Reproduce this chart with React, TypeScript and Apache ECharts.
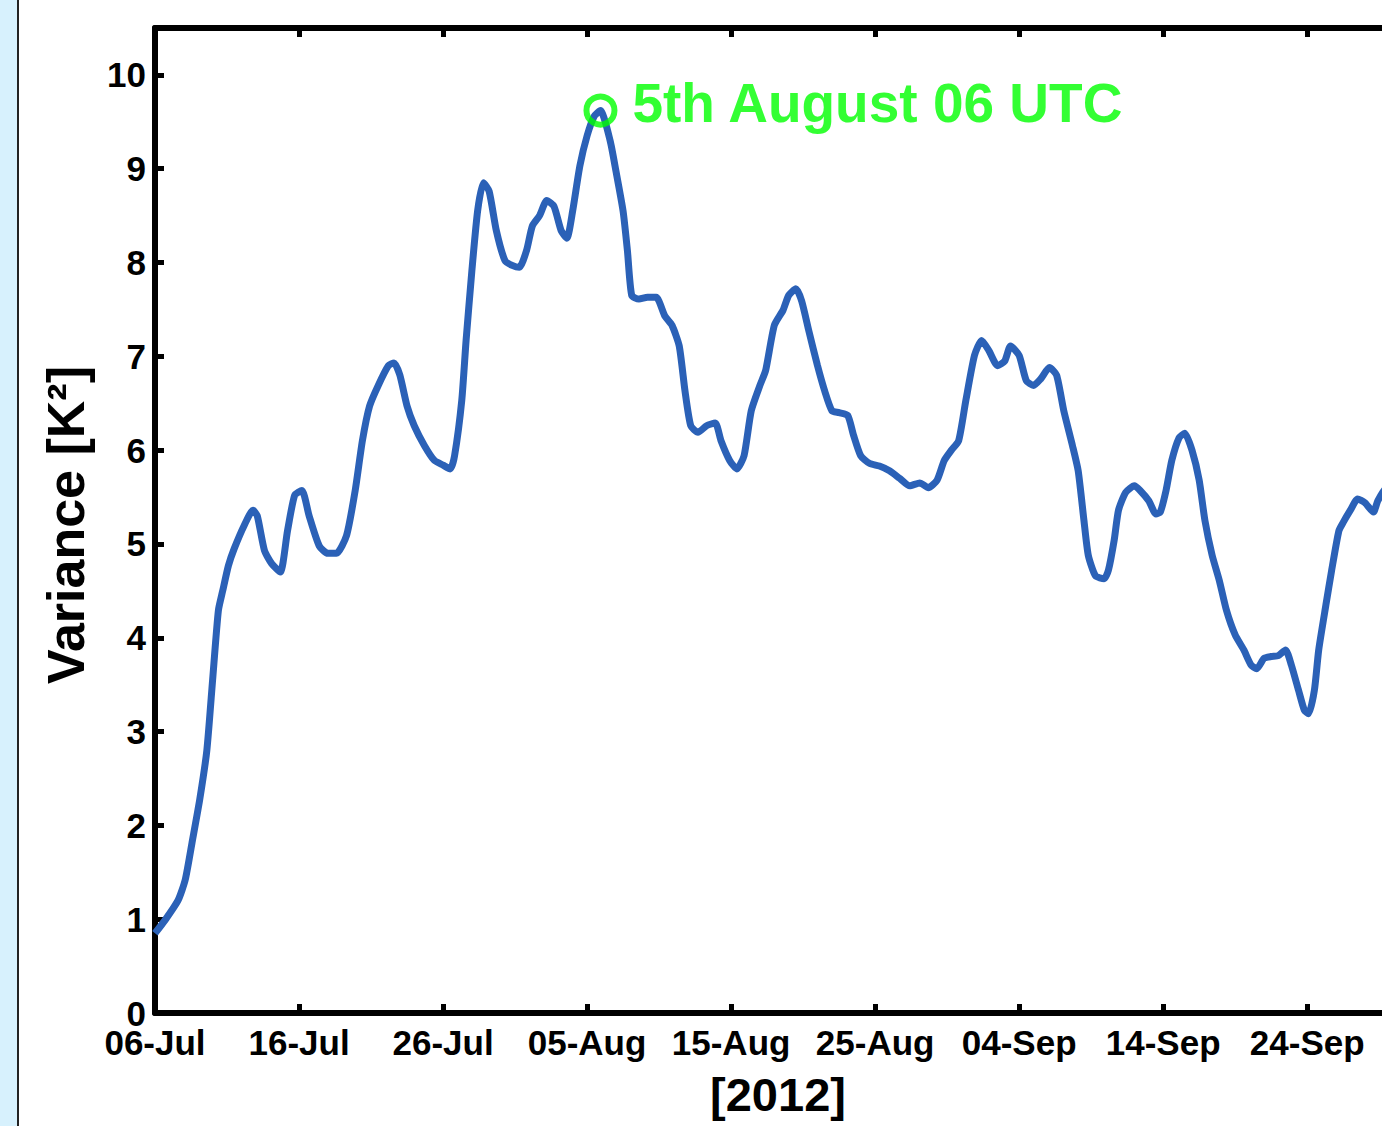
import React, { useEffect, useRef } from "react";
import * as echarts from "echarts";

// days since 06-Jul-2012
const days = [0, 0.7, 1.6, 2.1, 2.6, 3.1, 3.6, 4.0, 4.4, 4.7, 5.1, 5.5, 6.2, 6.8, 7.1, 7.6, 8.1, 8.7, 9.2, 9.7, 10.2, 10.7, 11.4, 12.0, 12.6, 13.3, 13.9, 14.4, 14.9, 15.5, 16.2, 16.6, 17.0, 17.5, 18.0, 18.7, 19.4, 20.0, 20.5, 20.8, 21.3, 21.6, 22.0, 22.4, 22.8, 23.2, 23.7, 24.3, 24.8, 25.3, 25.8, 26.2, 26.7, 27.2, 27.7, 28.2, 28.6, 29.0, 29.5, 30.0, 30.5, 30.93, 31.6, 32.0, 32.5, 32.8, 33.1, 33.6, 34.2, 34.8, 35.4, 35.9, 36.4, 36.8, 37.2, 37.7, 38.3, 38.9, 39.3, 39.9, 40.4, 40.9, 41.4, 42.0, 42.4, 43.0, 43.6, 44.0, 44.5, 44.9, 45.4, 46.0, 46.5, 47.0, 47.5, 48.1, 48.5, 49.0, 49.6, 50.3, 51.0, 51.7, 52.4, 53.1, 53.7, 54.3, 54.8, 55.3, 55.8, 56.3, 56.9, 57.4, 57.9, 58.5, 59.0, 59.4, 60.0, 60.5, 61.0, 61.5, 62.1, 62.6, 63.1, 63.7, 64.1, 64.5, 64.8, 65.3, 65.9, 66.2, 66.6, 66.9, 67.4, 68.0, 68.4, 69.0, 69.5, 69.8, 70.2, 70.6, 71.1, 71.5, 72.0, 72.5, 72.9, 73.4, 73.9, 74.4, 75.0, 75.6, 76.1, 76.5, 77.0, 77.5, 78.0, 78.5, 78.9, 79.4, 79.8, 80.1, 80.5, 80.8, 81.3, 81.7, 82.2, 82.5, 83.0, 83.5, 84.0, 84.6, 84.9, 85.5, 86.2, 87.0];

const variance = [0.85, 0.99, 1.2, 1.42, 1.84, 2.27, 2.8, 3.55, 4.29, 4.5, 4.77, 4.95, 5.2, 5.36, 5.3, 4.93, 4.79, 4.7, 5.14, 5.52, 5.57, 5.3, 4.98, 4.9, 4.9, 5.09, 5.57, 6.1, 6.47, 6.69, 6.9, 6.93, 6.8, 6.47, 6.26, 6.05, 5.89, 5.84, 5.8, 5.94, 6.53, 7.17, 7.91, 8.55, 8.85, 8.76, 8.34, 8.02, 7.97, 7.95, 8.13, 8.39, 8.5, 8.66, 8.6, 8.34, 8.26, 8.55, 9.03, 9.35, 9.56, 9.62, 9.3, 8.98, 8.55, 8.13, 7.65, 7.61, 7.63, 7.63, 7.43, 7.33, 7.11, 6.63, 6.26, 6.19, 6.26, 6.29, 6.1, 5.89, 5.8, 5.94, 6.42, 6.69, 6.85, 7.33, 7.49, 7.65, 7.72, 7.59, 7.27, 6.9, 6.63, 6.42, 6.4, 6.37, 6.16, 5.94, 5.86, 5.83, 5.78, 5.7, 5.62, 5.65, 5.6, 5.68, 5.89, 6.0, 6.1, 6.53, 7.01, 7.17, 7.06, 6.9, 6.95, 7.11, 7.01, 6.74, 6.69, 6.76, 6.88, 6.8, 6.42, 6.05, 5.78, 5.25, 4.88, 4.66, 4.63, 4.72, 5.04, 5.36, 5.55, 5.62, 5.57, 5.46, 5.32, 5.34, 5.57, 5.89, 6.13, 6.18, 6.0, 5.68, 5.25, 4.88, 4.61, 4.29, 4.03, 3.87, 3.71, 3.67, 3.78, 3.8, 3.81, 3.87, 3.71, 3.44, 3.23, 3.19, 3.44, 3.87, 4.35, 4.72, 5.14, 5.23, 5.36, 5.48, 5.44, 5.34, 5.46, 5.6, 5.62, 5.55];

const xTickLabels = ["06-Jul", "16-Jul", "26-Jul", "05-Aug", "15-Aug", "25-Aug", "04-Sep", "14-Sep", "24-Sep", "04-Oct"];
const peakDay = [30.93];
const peakValue = [9.62];
const peakLabel = "5th August 06 UTC";
const yTitle = "Variance [K²]";
const xTitle = "[2012]";

const FONT = "'Liberation Sans', Arial, sans-serif";

export default function App() {
  const ref = useRef<HTMLDivElement>(null);
  useEffect(() => {
    if (!ref.current) return;
    const chart = echarts.init(ref.current, null, { renderer: "svg" });
    const lineData = days.map((d, i) => [d, variance[i]]);
    const peakData = peakDay.map((d, i) => [d, peakValue[i]]);
    const tickStyle = { show: true, inside: true, length: 9, lineStyle: { color: "#000", width: 5 } };
    const axisLine = { show: true, onZero: false, lineStyle: { color: "#000", width: 6 } };
    chart.setOption({
      animation: false,
      backgroundColor: "#fff",
      grid: { left: 155, top: 28, bottom: 113, right: 22, containLabel: false },
      xAxis: [
        {
          type: "value",
          min: 0,
          max: 87,
          interval: 10,
          position: "bottom",
          axisLine,
          axisTick: tickStyle,
          splitLine: { show: false },
          axisLabel: {
            margin: 12,
            fontFamily: FONT,
            fontWeight: "bold",
            fontSize: 35,
            color: "#000",
            formatter: (v: number) => xTickLabels[Math.round(v / 10)] ?? "",
          },
        },
        {
          type: "value",
          min: 0,
          max: 87,
          interval: 10,
          position: "top",
          axisLine,
          axisTick: tickStyle,
          splitLine: { show: false },
          axisLabel: { show: false },
        },
      ],
      yAxis: [
        {
          type: "value",
          min: 0,
          max: 10.5,
          interval: 1,
          position: "left",
          axisLine,
          axisTick: tickStyle,
          splitLine: { show: false },
          axisLabel: {
            margin: 9,
            fontFamily: FONT,
            fontWeight: "bold",
            fontSize: 35,
            color: "#000",
            formatter: (v: number) => (v > 10 ? "" : String(v)),
          },
        },
        {
          type: "value",
          min: 0,
          max: 10.5,
          interval: 1,
          position: "right",
          axisLine,
          axisTick: tickStyle,
          splitLine: { show: false },
          axisLabel: { show: false },
        },
      ],
      graphic: [
        { type: "rect", shape: { x: 0, y: 0, width: 18, height: 1126 }, style: { fill: "#d7f1fd" } },
        { type: "rect", shape: { x: 17, y: 0, width: 2, height: 1126 }, style: { fill: "#222" } },
        {
          type: "text",
          x: 66,
          y: 525,
          rotation: Math.PI / 2,
          style: {
            text: yTitle,
            fontFamily: FONT,
            fontWeight: "bold",
            fontSize: 52,
            fill: "#000",
            align: "center",
            verticalAlign: "middle",
          },
        },
        {
          type: "text",
          x: 778,
          y: 1094,
          style: {
            text: xTitle,
            fontFamily: FONT,
            fontWeight: "bold",
            fontSize: 47,
            fill: "#000",
            align: "center",
            verticalAlign: "middle",
          },
        },
      ],
      series: [
        {
          type: "line",
          data: lineData,
          showSymbol: false,
          smooth: 0.2,
          lineStyle: { color: "#2b61b7", width: 7 },
          xAxisIndex: 0,
          yAxisIndex: 0,
          z: 2,
        },
        {
          type: "scatter",
          data: peakData,
          symbol: "circle",
          symbolSize: 28,
          itemStyle: { color: "rgba(0,0,0,0)", borderColor: "#00ff00", borderWidth: 6 },
          label: {
            show: true,
            position: "right",
            distance: 15,
            offset: [0, -8],
            formatter: peakLabel,
            fontFamily: FONT,
            fontWeight: "bold",
            fontSize: 55,
            color: "#00ff00",
          },
          xAxisIndex: 0,
          yAxisIndex: 0,
          z: 3,
        },
      ],
    });
    return () => chart.dispose();
  }, []);
  return (
    <div
      ref={ref}
      style={{ position: "fixed", left: 0, top: 0, width: 1430, height: 1126 }}
    />
  );
}
